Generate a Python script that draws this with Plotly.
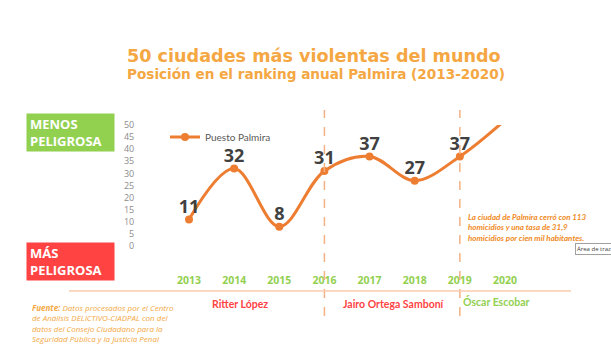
import plotly.graph_objects as go

# Ranking position of Palmira among the 50 most violent cities (2013-2020)
years = [2013, 2014, 2015, 2016, 2017, 2018, 2019, 2020]
puesto = [11, 32, 8, 31, 37, 27, 37, 52]
etiquetas = ["11", "32", "8", "31", "37", "27", "37", ""]
y_ticks = list(range(0, 55, 5))

alcaldes = ["Ritter López", "Jairo Ortega Samboní", "Óscar Escobar"]
cambios_gobierno = [2016, 2019]

ORANGE_LINE = "#ED7D31"
ORANGE_TXT = "#F4A742"
GREEN = "#92D050"
RED = "#FF4343"
FONT = "Open Sans"
NARROW = "Lato"
WIDE = "DejaVu Sans"

fig = go.Figure()
fig.add_trace(go.Scatter(
    x=years, y=puesto, mode="lines+markers", name="Puesto Palmira",
    line=dict(color=ORANGE_LINE, width=3, shape="spline", smoothing=1),
    marker=dict(color=ORANGE_LINE, size=8),
    cliponaxis=True,
))
# Value labels above each point (invisible tiny markers set the text offset)
fig.add_trace(go.Scatter(
    x=years, y=puesto, mode="markers+text", showlegend=False,
    marker=dict(size=2, opacity=0),
    text=etiquetas, textposition="top center",
    textfont=dict(family=FONT, size=18, color="#404040", weight="bold"),
    cliponaxis=False, hoverinfo="skip",
))

# Plot-area pixel layout: left 145, top 125, bottom 246
L, T, B = 145, 125, 102
W, H = 611, 348
pw, ph = W - L, H - T - B

def px(xp):
    return (xp - L) / pw

def py(yp):
    return (H - B - yp) / ph

fig.update_layout(
    width=W, height=H, margin=dict(l=L, r=0, t=T, b=B),
    paper_bgcolor="white", plot_bgcolor="white",
    font=dict(family=FONT),
    showlegend=True,
    legend=dict(x=px(165), y=py(137), xanchor="left", yanchor="middle",
                bgcolor="rgba(0,0,0,0)", itemwidth=30,
                font=dict(family=NARROW, size=10, color="#595959")),
    xaxis=dict(range=[2013 - 44 / 45.14, 2013 + 422 / 45.14], tickvals=years,
               ticktext=[str(y) for y in years], showgrid=False, zeroline=False,
               showline=False, ticks="outside", ticklen=24,
               tickcolor="rgba(0,0,0,0)",
               tickfont=dict(family=FONT, size=10.5, color=GREEN, weight="bold")),
    yaxis=dict(range=[0, 50], tickvals=y_ticks, showgrid=False, zeroline=False,
               showline=False, ticks="outside", ticklen=8,
               tickcolor="rgba(0,0,0,0)",
               tickfont=dict(family=FONT, size=9, color="#8C8C8C")),
)

# Government change markers
for yr in cambios_gobierno:
    fig.add_shape(type="line", xref="x", yref="paper", x0=yr, x1=yr,
                  y0=py(316), y1=py(110),
                  line=dict(color="#F4B183", width=1.5, dash="dash"))

# Separator under the years
fig.add_shape(type="line", xref="paper", yref="paper",
              x0=px(69), x1=px(571), y0=py(291), y1=py(291),
              line=dict(color="#F8CBAD", width=1.5))

annotations = [
    dict(x=px(125), y=py(56), text="50 ciudades más violentas del mundo",
         font=dict(family=WIDE, size=17.6, color=ORANGE_TXT, weight="bold"),
         xanchor="left", yanchor="middle"),
    dict(x=px(125), y=py(73.5), text="Posición en el ranking anual Palmira (2013-2020)",
         font=dict(family=WIDE, size=13.6, color=ORANGE_TXT, weight="bold"),
         xanchor="left", yanchor="middle"),
    dict(x=px(240), y=py(304), text=alcaldes[0],
         font=dict(family=NARROW, size=10.5, color=RED, weight="bold"),
         xanchor="center", yanchor="middle"),
    dict(x=px(394), y=py(304), text=alcaldes[1],
         font=dict(family=NARROW, size=10.5, color=RED, weight="bold"),
         xanchor="center", yanchor="middle"),
    dict(x=px(496), y=py(301), text=alcaldes[2],
         font=dict(family=NARROW, size=10.5, color=GREEN, weight="bold"),
         xanchor="center", yanchor="middle"),
    dict(x=px(30), y=py(300), align="left",
         text="<b>Fuente:</b> Datos procesados por el Centro<br>"
              "de Análisis DELICTIVO-CIADPAL con del<br>"
              "datos del Consejo Ciudadano para la<br>"
              "Seguridad Pública y la Justicia Penal",
         font=dict(family=FONT, size=8, color=ORANGE_TXT, style="italic"),
         xanchor="left", yanchor="top"),
    dict(x=px(466), y=py(227), align="left",
         text="La ciudad de Palmira cerró con 113<br>"
              "homicidios y una tasa de 31,9<br>"
              "homicidios por cien mil habitantes.",
         font=dict(family=NARROW, size=8, color="#F08A24", style="italic", weight="bold"),
         xanchor="left", yanchor="middle"),
    dict(x=px(26), y=py(113), text="MENOS<br>PELIGROSA", align="left",
         font=dict(family=FONT, size=13, color="white", weight="bold"),
         xanchor="left", yanchor="top", bgcolor=GREEN, width=81, height=31,
         borderpad=3, valign="middle"),
    dict(x=px(26), y=py(242), text="MÁS<br>PELIGROSA", align="left",
         font=dict(family=FONT, size=13, color="white", weight="bold"),
         xanchor="left", yanchor="top", bgcolor=RED, width=81, height=31,
         borderpad=3, valign="middle"),
    dict(x=px(575), y=py(249), text="Área de trazado", align="left",
         font=dict(family=FONT, size=6, color="#404040"),
         xanchor="left", yanchor="middle", bgcolor="white",
         bordercolor="#A0A0A0", borderwidth=1, borderpad=1),
]
for a in annotations:
    a.update(xref="paper", yref="paper", showarrow=False)
fig.update_layout(annotations=annotations)

fig.write_html("out.html")
